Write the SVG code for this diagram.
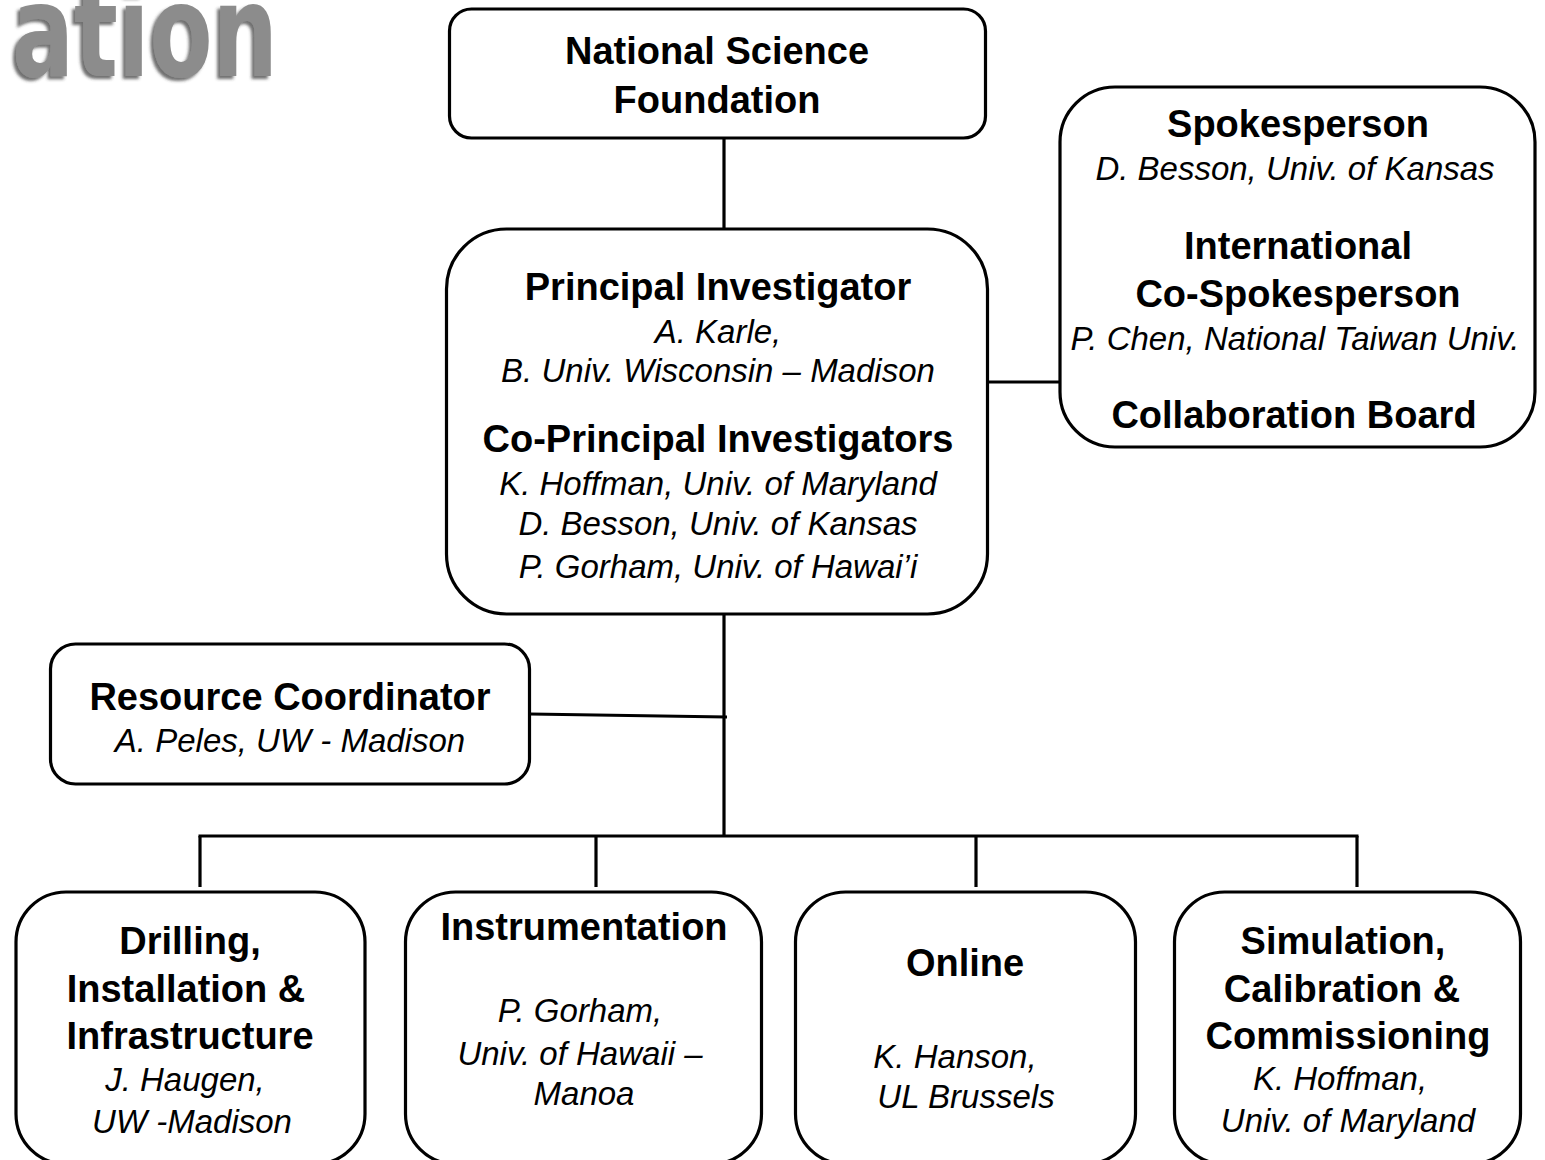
<svg xmlns="http://www.w3.org/2000/svg" width="1545" height="1160" viewBox="0 0 1545 1160">
<defs>
<style>
.box{fill:#fff;stroke:#000;stroke-width:3.2}
.ln{stroke:#000;stroke-width:3.2;fill:none}
.b{font-family:"Liberation Sans",Arial,sans-serif;font-weight:bold;font-size:38px;text-anchor:middle;fill:#000}
.i{font-family:"Liberation Sans",Arial,sans-serif;font-style:italic;font-size:33px;text-anchor:middle;fill:#000}
.logo{font-family:"DejaVu Sans Condensed","DejaVu Sans",sans-serif;font-weight:bold;font-size:128px;fill:#8c8c8c}
</style>
<filter id="sh" x="-10%" y="-10%" width="120%" height="130%">
<feDropShadow dx="-3" dy="3" stdDeviation="1.5" flood-color="#333" flood-opacity="0.7"/>
</filter>
</defs>
<rect width="1545" height="1160" fill="#fff"/>
<g id="logo">
<text class="logo" x="12" y="76" textLength="266" lengthAdjust="spacingAndGlyphs" filter="url(#sh)">ation</text>
</g>
<g id="connectors">
<line class="ln" x1="724" y1="138" x2="724" y2="229"/>
<line class="ln" x1="988" y1="382" x2="1060" y2="382"/>
<line class="ln" x1="724" y1="614" x2="724" y2="837"/>
<line class="ln" x1="530" y1="714" x2="727" y2="717"/>
<line class="ln" x1="198.5" y1="836" x2="1358.5" y2="836"/>
<line class="ln" x1="200" y1="836" x2="200" y2="887"/>
<line class="ln" x1="596" y1="836" x2="596" y2="887"/>
<line class="ln" x1="976" y1="836" x2="976" y2="887"/>
<line class="ln" x1="1357" y1="836" x2="1357" y2="887"/>
</g>
<g id="nsf">
<rect class="box" x="449.5" y="9" width="536" height="129" rx="22"/>
<text class="b" x="717" y="64">National Science</text>
<text class="b" x="717" y="113">Foundation</text>
</g>
<g id="pi">
<rect class="box" x="446.5" y="229" width="541" height="385" rx="60"/>
<text class="b" x="718" y="300">Principal Investigator</text>
<text class="i" x="718" y="343">A. Karle,</text>
<text class="i" x="718" y="382">B. Univ. Wisconsin – Madison</text>
<text class="b" x="718" y="452">Co-Principal Investigators</text>
<text class="i" x="718" y="495">K. Hoffman, Univ. of Maryland</text>
<text class="i" x="718" y="535">D. Besson, Univ. of Kansas</text>
<text class="i" x="718" y="578">P. Gorham, Univ. of Hawai’i</text>
</g>
<g id="spokesperson">
<rect class="box" x="1060" y="87" width="475" height="360" rx="55"/>
<text class="b" x="1298" y="137">Spokesperson</text>
<text class="i" x="1295" y="180">D. Besson, Univ. of Kansas</text>
<text class="b" x="1298" y="259">International</text>
<text class="b" x="1298" y="307">Co-Spokesperson</text>
<text class="i" x="1295" y="350">P. Chen, National Taiwan Univ.</text>
<text class="b" x="1294" y="428">Collaboration Board</text>
</g>
<g id="resource">
<rect class="box" x="50.5" y="644" width="479" height="140" rx="25"/>
<text class="b" x="290" y="710">Resource Coordinator</text>
<text class="i" x="290" y="752">A. Peles, UW - Madison</text>
</g>
<g id="drilling">
<rect class="box" x="16" y="892" width="349" height="272" rx="50"/>
<text class="b" x="190" y="954">Drilling,</text>
<text class="b" x="186" y="1002">Installation &amp;</text>
<text class="b" x="190" y="1049">Infrastructure</text>
<text class="i" x="185" y="1091">J. Haugen,</text>
<text class="i" x="192" y="1133">UW -Madison</text>
</g>
<g id="instrumentation">
<rect class="box" x="405.5" y="892" width="356" height="272" rx="50"/>
<text class="b" x="584" y="940">Instrumentation</text>
<text class="i" x="580" y="1022">P. Gorham,</text>
<text class="i" x="580" y="1065">Univ. of Hawaii –</text>
<text class="i" x="584" y="1105">Manoa</text>
</g>
<g id="online">
<rect class="box" x="795.5" y="892" width="340" height="272" rx="50"/>
<text class="b" x="965" y="976">Online</text>
<text class="i" x="955" y="1068">K. Hanson,</text>
<text class="i" x="966" y="1108">UL Brussels</text>
</g>
<g id="simulation">
<rect class="box" x="1174.5" y="892" width="346" height="272" rx="50"/>
<text class="b" x="1343" y="954">Simulation,</text>
<text class="b" x="1342" y="1002">Calibration &amp;</text>
<text class="b" x="1348" y="1049">Commissioning</text>
<text class="i" x="1340" y="1090">K. Hoffman,</text>
<text class="i" x="1348" y="1132">Univ. of Maryland</text>
</g>
</svg>
